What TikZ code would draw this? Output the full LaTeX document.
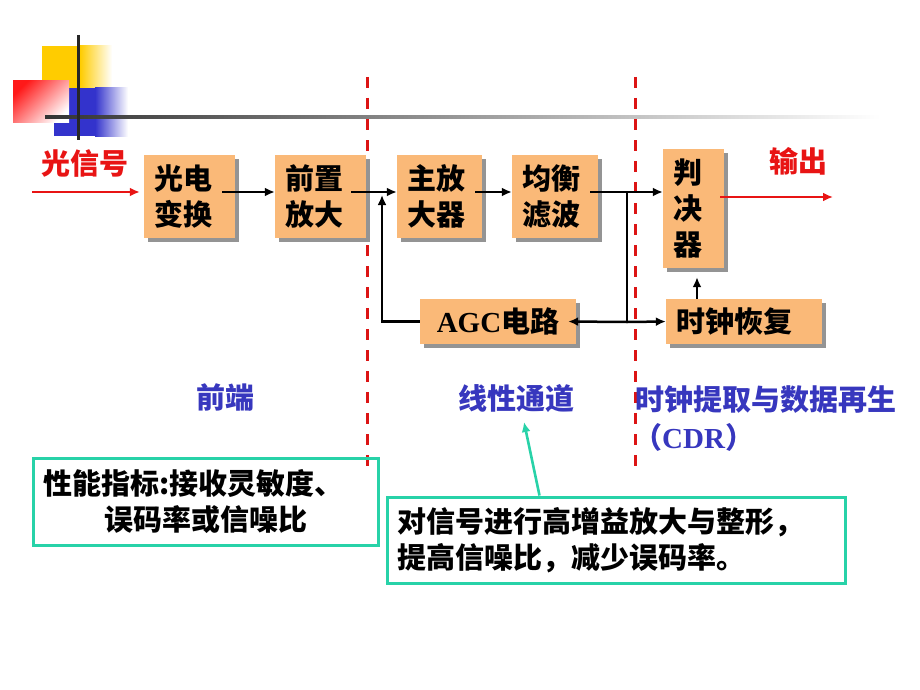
\documentclass[tikz,border=0pt]{standalone}
\usepackage{fontspec}
\setmainfont{Noto Sans CJK SC}
\newfontfamily\ser{Liberation Serif}
\usetikzlibrary{arrows.meta,shadows,calc}
\definecolor{boxfill}{RGB}{250,185,120}
\definecolor{sigred}{RGB}{232,20,20}
\definecolor{dashred}{RGB}{220,20,20}
\definecolor{lblue}{RGB}{55,55,190}
\definecolor{tealc}{RGB}{40,210,168}
\definecolor{ydeco}{RGB}{255,204,0}
\definecolor{bdeco}{RGB}{51,51,204}
\begin{document}
\begin{tikzpicture}[x=1pt,y=-1pt,
  blk/.style={fill=boxfill, inner ysep=0pt, inner xsep=10pt,
    drop shadow={shadow xshift=4pt, shadow yshift=-4pt, fill=black!42, opacity=1},
    font={\bfseries\fontsize{29}{36}\selectfont}},
  arr/.style={line width=2.5pt, -{Latex[length=10pt,width=9pt]}},
  conn/.style={line width=2.5pt},
  redarr/.style={line width=2.6pt, sigred, -{Latex[length=10pt,width=9pt]}},
  reddash/.style={line width=3pt, dashred, dash pattern=on 11pt off 10pt},
  lbl/.style={font={\bfseries\fontsize{29}{34}\selectfont}},
  note/.style={draw=tealc, line width=3pt, inner ysep=0pt, inner xsep=10pt, align=left,
    font={\bfseries\fontsize{29}{36}\selectfont}},
  tealarr/.style={line width=2.6pt, tealc, -{Latex[length=10pt,width=9pt]}}
]
\useasboundingbox (0,0) rectangle (920,690);

% decoration top-left
\fill[ydeco] (42,46) rectangle (80,88);
\shade[left color=ydeco, right color=white] (80,46) rectangle (112,88);
\fill[bdeco] (54,88) rectangle (95,136);
\shade[left color=bdeco, right color=white] (95,88) rectangle (128,136);
\shade[left color=white, right color=red!90, shading angle=225] (13,81) rectangle (69,123);
\shade[left color=black!80, right color=white] (45,115.5) rectangle (880,118.5);
\draw[line width=3pt, black!85] (78,35) -- (78,140);

% dashed separators
\draw[reddash] (367,77) -- (367,467);
\draw[reddash] (635,77) -- (635,467);

% blocks
\node[blk, text width=71pt, minimum height=83pt, align=left] (b1) at (189.5,196.5) {光电\\变换};
\node[blk, text width=71pt, minimum height=83pt, align=left] (b2) at (320.5,196.5) {前置\\放大};
\node[blk, text width=65pt, minimum height=83pt, align=left] (b3) at (439.5,196.5) {主放\\大器};
\node[blk, text width=66pt, minimum height=83pt, align=left] (b4) at (555,196.5) {均衡\\滤波};
\node[blk, text width=41pt, minimum height=119pt, align=left] (b5) at (693.5,208.5) {判\\决\\器};
\node[blk, minimum width=156pt, minimum height=45pt, align=center] (agc) at (498,321.5) {{\ser\bfseries AGC}电路};
\node[blk, text width=136pt, minimum height=45pt, align=left] (clk) at (744,321.5) {时钟恢复};

% labels
\node[lbl, text=sigred] (lin) at (85,163) {光信号};
\node[lbl, text=sigred] (lout) at (798,161) {输出};
\node[lbl, text=lblue] (l1) at (225,397) {前端};
\node[lbl, text=lblue] (l2) at (516,399) {线性通道};
\node[lbl, text=lblue, anchor=west, inner sep=0pt] (l3) at (635,400) {时钟提取与数据再生};
\node[lbl, text=lblue, anchor=west, inner sep=0pt] (l4) at (633,437) {（{\ser\bfseries CDR}）};

% notes
\node[note, text width=325pt, minimum height=87pt] (k1) at (205.5,501.5)
  {性能指标:接收灵敏度、\\\hspace*{61pt}误码率或信噪比};
\node[note, text width=438pt, minimum height=86pt] (k2) at (616,540)
  {对信号进行高增益放大与整形，\\提高信噪比，减少误码率。};

% connectors
\coordinate (sig) at (0,192);
\coordinate (in) at (32,192);
\coordinate (fbtop) at (382,195);
\coordinate (br) at (627,192);
\coordinate (brd) at (627,322);
\coordinate (out) at (833,197);
\coordinate (tip) at (524,422);

\draw[redarr] (in) -- ([xshift=-4pt]b1.west |- in);
\draw[arr] ([xshift=-13pt]b1.east |- sig) -- (b2.west |- sig);
\draw[arr] ([xshift=-15pt]b2.east |- sig) -- (b3.west |- sig);
\draw[arr] ([xshift=-7pt]b3.east |- sig) -- (b4.west |- sig);
\draw[arr] ([xshift=-8pt]b4.east |- sig) -- (b5.west |- sig);
\draw[arr] (agc.west) -| (fbtop);
\draw[conn] (br) -- (brd);
\draw[arr] (brd) -- ([xshift=-8pt]agc.east);
\draw[arr] (brd) -- (clk.west);
\draw[arr] ([xshift=3.5pt]b5.south |- clk.north) -- ([xshift=3.5pt,yshift=-9pt]b5.south);
\draw[redarr] ([xshift=-4pt]b5.east |- out) -- (out);
\draw[tealarr] ($(k2.north west)+(154,0)$) -- (tip);
\end{tikzpicture}
\end{document}
